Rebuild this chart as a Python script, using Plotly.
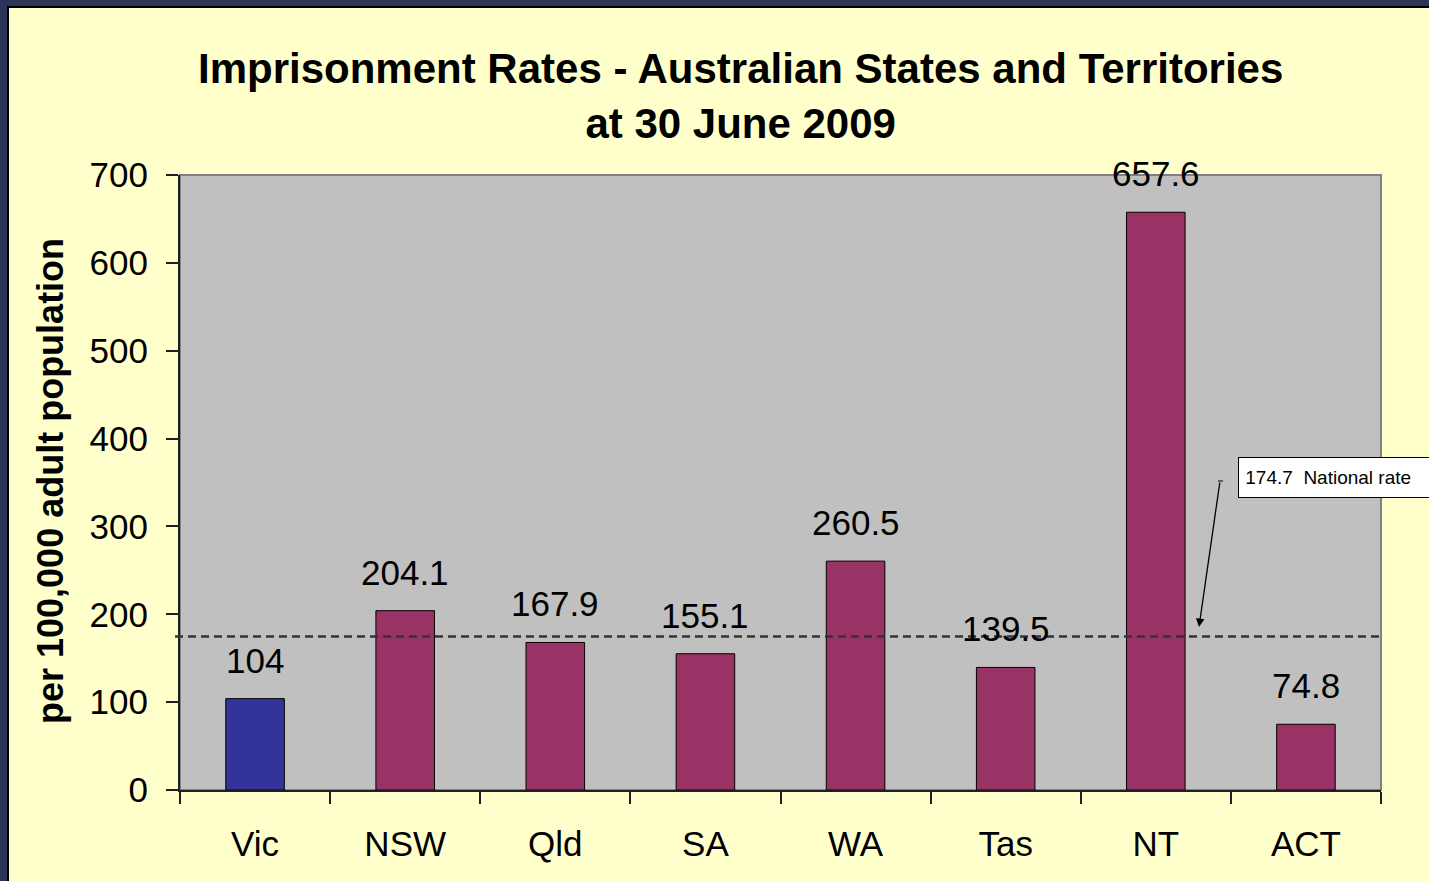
import plotly.graph_objects as go

# ---- data ----
categories = ["Vic", "NSW", "Qld", "SA", "WA", "Tas", "NT", "ACT"]
rates = [104, 204.1, 167.9, 155.1, 260.5, 139.5, 657.6, 74.8]
national_rate = 174.7
highlight = "Vic"
y_ticks = [0, 100, 200, 300, 400, 500, 600, 700]

title_text = "Imprisonment Rates - Australian States and Territories<br>at 30 June 2009"
y_title = "per 100,000 adult population"
national_label = "174.7  National rate"

# ---- styling ----
W, H = 1429, 881
L, R, T, B = 180, 1381, 175, 790  # plot area in page px
FONT = "Arial, Liberation Sans, sans-serif"


def px_x(p):
    return (p - L) / (R - L)


def px_y(p):
    return (B - p) / (B - T)


colors = ["#333399" if c == highlight else "#993366" for c in categories]

fig = go.Figure()
fig.add_trace(go.Bar(
    x=categories, y=rates,
    marker=dict(color=colors, line=dict(color="black", width=1)),
    width=0.39,
    hoverinfo="x+y",
))

shapes = [
    # yellow panel
    dict(type="rect", xref="paper", yref="paper", layer="below",
         x0=px_x(8), x1=px_x(1500), y0=px_y(960), y1=px_y(7),
         fillcolor="#FFFFCC", line=dict(color="black", width=2)),
    # plot area background
    dict(type="rect", xref="paper", yref="paper", layer="below",
         x0=0, x1=1, y0=0, y1=1,
         fillcolor="#C0C0C0", line=dict(color="#808080", width=2)),
    # national rate dashed line
    dict(type="line", xref="paper", yref="y", layer="above",
         x0=px_x(175), x1=1, y0=national_rate, y1=national_rate,
         line=dict(color="#333333", width=2.5, dash="8px,5px")),
    # small hook at arrow tail
    dict(type="line", xref="paper", yref="paper", layer="above",
         x0=px_x(1218), x1=px_x(1223), y0=px_y(481), y1=px_y(481),
         line=dict(color="black", width=1)),
]

annotations = []
# title
annotations.append(dict(
    text="<b>" + title_text.replace("<br>", "</b><br><b>") + "</b>",
    xref="paper", yref="paper", x=px_x(740), y=px_y(96),
    xanchor="center", yanchor="middle", showarrow=False,
    font=dict(family=FONT, size=42, color="black"),
))
# y-axis title
annotations.append(dict(
    text="<b>" + y_title + "</b>", textangle=-90,
    xref="paper", yref="paper", x=px_x(50), y=px_y(481),
    xanchor="center", yanchor="middle", showarrow=False,
    font=dict(family=FONT, size=36, color="black"),
))
# data labels
for c, v in zip(categories, rates):
    annotations.append(dict(
        text=f"{v:g}", x=c, y=v, xref="x", yref="y",
        xanchor="center", yanchor="bottom", yshift=17, showarrow=False,
        font=dict(family=FONT, size=35, color="black"),
    ))
# national rate label box
annotations.append(dict(
    text=" " + national_label, xref="paper", yref="paper",
    x=px_x(1238), y=px_y(477), xanchor="left", yanchor="middle",
    showarrow=False, align="left", width=210, height=37,
    bgcolor="white", bordercolor="black", borderwidth=1, borderpad=1,
    font=dict(family=FONT, size=19, color="black"),
))
# arrow
annotations.append(dict(
    text="", xref="paper", yref="paper",
    x=px_x(1199), y=px_y(627), ax=21, ay=-146, axref="pixel", ayref="pixel",
    showarrow=True, arrowhead=2, arrowsize=1.3, arrowwidth=1.3, arrowcolor="black",
))

fig.update_layout(
    width=W, height=H,
    margin=dict(l=L, r=W - R, t=T, b=H - B),
    paper_bgcolor="#2E3458",
    plot_bgcolor="rgba(0,0,0,0)",
    showlegend=False,
    shapes=shapes,
    annotations=annotations,
    xaxis=dict(
        range=[-0.5, len(categories) - 0.5],
        tickson="boundaries", ticks="outside", ticklen=12, tickwidth=2, tickcolor="#202020",
        showline=True, linecolor="#202020", linewidth=2,
        showgrid=False, zeroline=False,
        tickfont=dict(family=FONT, size=35, color="black"),
        ticklabelstandoff=22,
    ),
    yaxis=dict(
        range=[0, 700], tickvals=y_ticks,
        ticks="outside", ticklen=12, tickwidth=2, tickcolor="#202020",
        showline=True, linecolor="#202020", linewidth=2,
        showgrid=False, zeroline=False,
        tickfont=dict(family=FONT, size=35, color="black"),
        ticklabelstandoff=11,
    ),
)

fig.write_html(
    "out.html",
    config={"displayModeBar": False},
    post_script="document.body.style.margin='0';document.body.style.overflow='hidden';"
                "document.body.style.background='#2E3458';",
)
